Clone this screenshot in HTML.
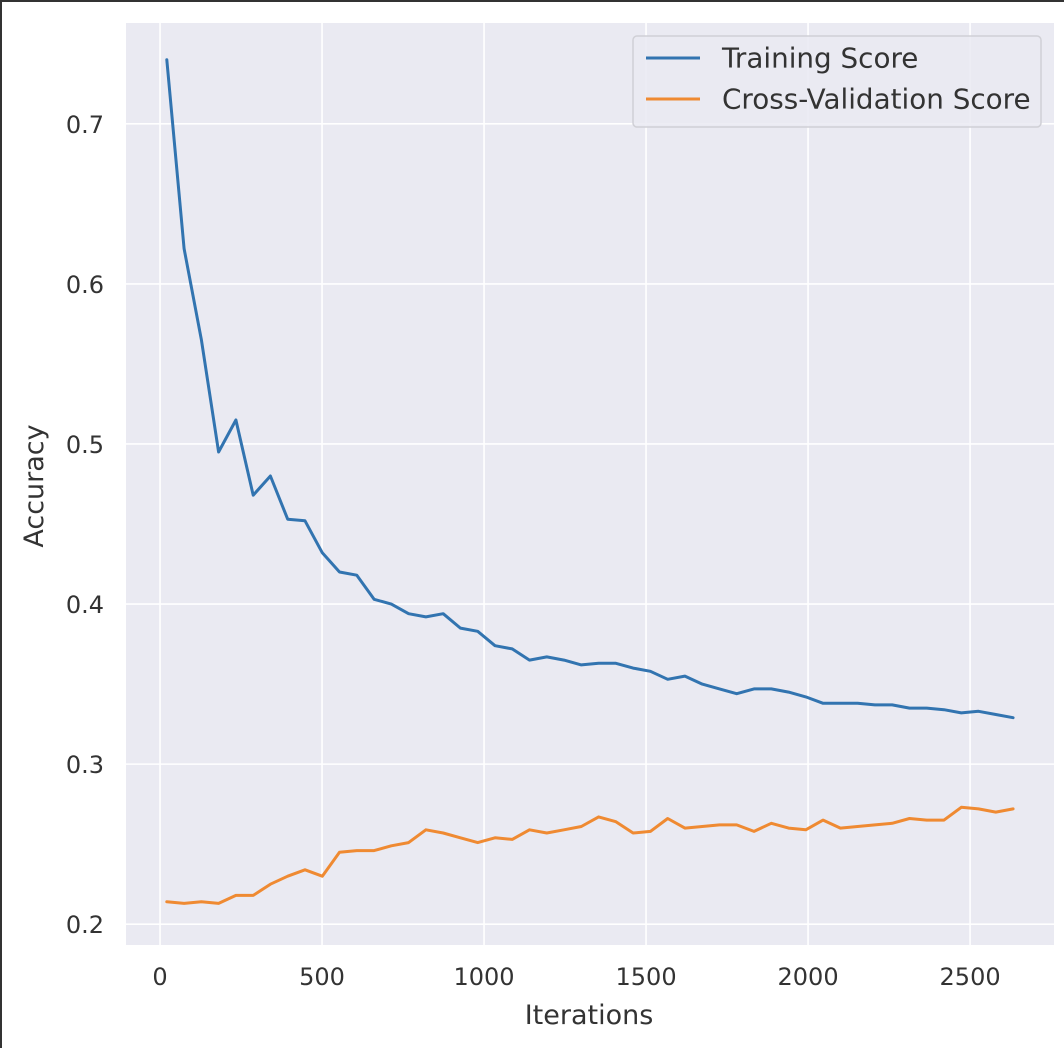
<!DOCTYPE html>
<html><head><meta charset="utf-8"><style>
html,body{margin:0;padding:0;background:#fff}
body{width:1064px;height:1048px;overflow:hidden;position:relative}
svg{position:absolute;left:0;top:0}
text{font-family:"DejaVu Sans","Liberation Sans",sans-serif;fill:#333}
.fr{position:absolute;background:#333}
</style></head><body>
<svg id="chart" width="1064" height="1048"></svg>
<div class="fr" style="left:0;top:0;width:1064px;height:2px"></div>
<div class="fr" style="left:0;top:0;width:2px;height:1048px"></div>
<script>
const iterStart = 21, iterStep = 53.3;
const trainScore = [0.74,0.622,0.565,0.495,0.515,0.468,0.48,0.453,0.452,0.432,0.42,0.418,0.403,0.4,0.394,0.392,0.394,0.385,0.383,0.374,0.372,0.365,0.367,0.365,0.362,0.363,0.363,0.36,0.358,0.353,0.355,0.35,0.347,0.344,0.347,0.347,0.345,0.342,0.338,0.338,0.338,0.337,0.337,0.335,0.335,0.334,0.332,0.333,0.331,0.329];
const cvScore = [0.214,0.213,0.214,0.213,0.218,0.218,0.225,0.230,0.234,0.230,0.245,0.246,0.246,0.249,0.251,0.259,0.257,0.254,0.251,0.254,0.253,0.259,0.257,0.259,0.261,0.267,0.264,0.257,0.258,0.266,0.260,0.261,0.262,0.262,0.258,0.263,0.260,0.259,0.265,0.260,0.261,0.262,0.263,0.266,0.265,0.265,0.273,0.272,0.270,0.272];
const xTicks = [0,500,1000,1500,2000,2500];
const yTicks = [0.2,0.3,0.4,0.5,0.6,0.7];
const seriesNames = ["Training Score","Cross-Validation Score"];

const L=126,T=23,R=1054,B=945;
const xMin=-105,xMax=2759,yMin=0.187,yMax=0.763;
const sx=v=>L+(v-xMin)/(xMax-xMin)*(R-L);
const sy=v=>B-(v-yMin)/(yMax-yMin)*(B-T);
const svg=document.getElementById('chart');
const NS='http://www.w3.org/2000/svg';
function mk(tag,attrs,parent){const e=document.createElementNS(NS,tag);for(const k in attrs)e.setAttribute(k,attrs[k]);(parent||svg).appendChild(e);return e;}

const bg=mk('rect',{x:L,y:T,width:R-L,height:B-T,fill:'#eaeaf2'});



xTicks.forEach(t=>{
  const g=mk('line',{x1:sx(t),x2:sx(t),y1:T,y2:B,stroke:'#fff','stroke-width':1.6});
  
  
  const tx=mk('text',{x:sx(t),y:985,'text-anchor':'middle','font-size':24});
  tx.textContent=t;
  
  
});
yTicks.forEach(t=>{
  const g=mk('line',{x1:L,x2:R,y1:sy(t),y2:sy(t),stroke:'#fff','stroke-width':1.6});
  
  
  const tx=mk('text',{x:104,y:sy(t)+9,'text-anchor':'end','font-size':24});
  tx.textContent=t.toFixed(1);
  
  
});

function series(vals,color,name){
  const pts=vals.map((v,i)=>sx(iterStart+i*iterStep).toFixed(1)+','+sy(v).toFixed(1)).join(' ');
  const p=mk('polyline',{points:pts,fill:'none',stroke:color,'stroke-width':3,'stroke-linejoin':'round','stroke-linecap':'round'});
  
  
}
series(trainScore,'#3274b0','training-score-line');
series(cvScore,'#ef8a32','cross-validation-score-line');

const lg=mk('rect',{x:633,y:36,width:408,height:91,rx:4,fill:'#eaeaf2','fill-opacity':0.85,stroke:'#d0d0d6','stroke-width':1.5});


[['#3274b0',58],['#ef8a32',99]].forEach((c,i)=>{
  const l=mk('line',{x1:646,x2:700,y1:c[1],y2:c[1],stroke:c[0],'stroke-width':3});
  
  
  const t=mk('text',{x:722,y:c[1]+9.5,'font-size':27.8});
  t.textContent=seriesNames[i];
  
  
});

const xl=mk('text',{x:589,y:1024,'text-anchor':'middle','font-size':27});
xl.textContent='Iterations';


const yl=mk('text',{x:0,y:0,'text-anchor':'middle','font-size':27,transform:'translate(43,486) rotate(-90)'});
yl.textContent='Accuracy';


</script>
</body></html>
